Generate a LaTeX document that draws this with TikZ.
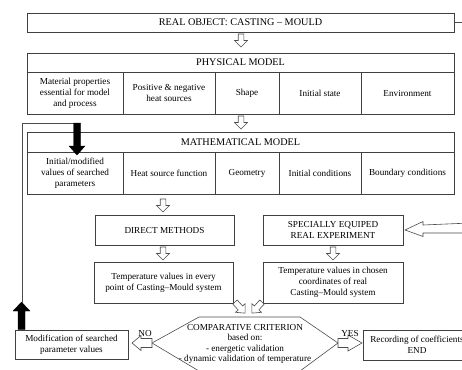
\documentclass[tikz,border=0pt]{standalone}
\usepackage{fontspec}
\setmainfont{Liberation Serif}
\begin{document}
\newcommand\mybox[6]{\node[box, minimum width={(#4)-(#2)}, minimum height={(#5)-(#3)}] (#1) at ({((#2)+(#4))/2},{((#3)+(#5))/2}) {#6};}
\begin{tikzpicture}[x=1pt,y=-1pt,
  box/.style={draw=black!75, line width=0.7pt, inner sep=1pt, outer sep=0pt, align=center, font=\fontsize{9.2}{11}\selectfont},
  hol/.style={draw=black!70, line width=0.6pt, fill=white, line join=miter},
  blk/.style={fill=black, draw=black, line width=0.3pt},
  lbl/.style={font=\fontsize{9.2}{11}\selectfont, inner sep=0pt},
  thinline/.style={draw=black!70, line width=0.6pt},
  hdown/.pic={\draw[hol] (-2.8,0) -- (2.8,0) -- (2.8,6.5) -- (6.5,6.5) -- (0,13) -- (-6.5,6.5) -- (-2.8,6.5) -- cycle;},
  hdiag/.pic={\draw[hol] (-3,0) -- (3,0) -- (3,8) -- (6.5,8) -- (0,15) -- (-6.5,8) -- (-3,8) -- cycle;}
]
\useasboundingbox (0,0) rectangle (462,369);
\clip (0,0) rectangle (462,369);

% real object
\mybox{real}{27}{13}{454}{32}{\fontsize{10.2}{12}\selectfont REAL OBJECT: CASTING -- MOULD}
\draw[thinline] (real.east) -- ++(12,0);
\pic at (241,34) {hdown};

% physical model
\mybox{phys}{27}{53}{454}{72}{\fontsize{10.2}{12}\selectfont PHYSICAL MODEL}
\mybox{p1}{27}{72}{123}{114}{Material properties\\essential for model\\and process}
\mybox{p2}{123}{72}{215}{114}{Positive \& negative\\heat sources}
\mybox{p3}{215}{72}{279}{114}{Shape}
\mybox{p4}{279}{72}{361}{114}{Initial state}
\mybox{p5}{361}{72}{454}{114}{Environment}
\pic at (241,116) {hdown};

% mathematical model
\mybox{math}{27}{132}{454}{152}{\fontsize{10.2}{12}\selectfont MATHEMATICAL MODEL}
\mybox{m1}{27}{152}{123}{194}{Initial/modified\\values of searched\\parameters}
\mybox{m2}{123}{152}{215}{194}{Heat source function}
\mybox{m3}{215}{152}{279}{194}{Geometry}
\mybox{m4}{279}{152}{361}{194}{Initial conditions}
\mybox{m5}{361}{152}{454}{194}{Boundary conditions}
\pic at (163,199) {hdown};

% methods and experiment
\mybox{direct}{95}{215}{234}{245}{DIRECT METHODS}
\mybox{exper}{263}{215}{403}{245}{SPECIALLY EQUIPED\\REAL EXPERIMENT}
\draw[hol] (exper.east) ++(2,0) -- ++(18,-8.5) -- ++(0,3.5) -- (470,223) -- (470,233) -- (423,233) -- (423,236.5) -- cycle;
\pic at (163,247) {hdown};
\pic at (333,247) {hdown};

% temperatures
\mybox{temp1}{94}{262}{233}{303}{Temperature values in every\\point of Casting--Mould system}
\mybox{temp2}{263}{262}{403}{303}{Temperature values in chosen\\coordinates of real\\Casting--Mould system}
\pic[rotate=42] at (235,302) {hdiag};
\pic[rotate=-42] at (262,302) {hdiag};

% comparative criterion
\coordinate (hexL) at (152,343);
\coordinate (hexR) at (338,343);
\draw[thinline, line join=miter] (hexL) -- (199,317) -- (300,317) -- (hexR) -- (300,371) -- (199,371) -- cycle;
\node[lbl, align=center, font=\fontsize{9.2}{10.4}\selectfont] (crit) at (245,344) {COMPARATIVE CRITERION\\based on:\\- energetic validation\\- dynamic validation of temperature};

% NO branch
\mybox{mod}{15}{330}{128}{359}{Modification of searched\\parameter values}
\draw[hol] ([xshift=-20pt]hexL) -- ++(9,-7.5) -- ++(0,3) -- ++(11,0) -- ++(0,9) -- ++(-11,0) -- ++(0,3) -- cycle;
\node[lbl] (no) at (145,333) {NO};

% YES branch
\mybox{rec}{363}{330}{471}{360}{Recording of coefficients\\END}
\draw[hol] (hexR) ++(0,-4.5) -- ++(10,0) -- ++(0,-3.5) -- ++(14,8) -- ++(-14,8) -- ++(0,-3.5) -- ++(-10,0) -- cycle;
\node[lbl] (yes) at (350,333) {YES};

% feedback loop
\coordinate (fbA) at (22,303);
\coordinate (fbB) at (22,123);
\coordinate (fbC) at (77,123);
\draw[blk] (18,329.5) -- (25,329.5) -- (25,311) -- (30,311) -- (21.5,302) -- (13,311) -- (18,311) -- cycle;
\draw[thinline] (fbA) -- (fbB) -- (fbC);
\draw[blk] (fbC) ++(-3.5,0) -- ++(7,0) -- ++(0,23) -- ++(4.5,0) -- ++(-8,9) -- ++(-8,-9) -- ++(4.5,0) -- cycle;
\end{tikzpicture}
\end{document}
